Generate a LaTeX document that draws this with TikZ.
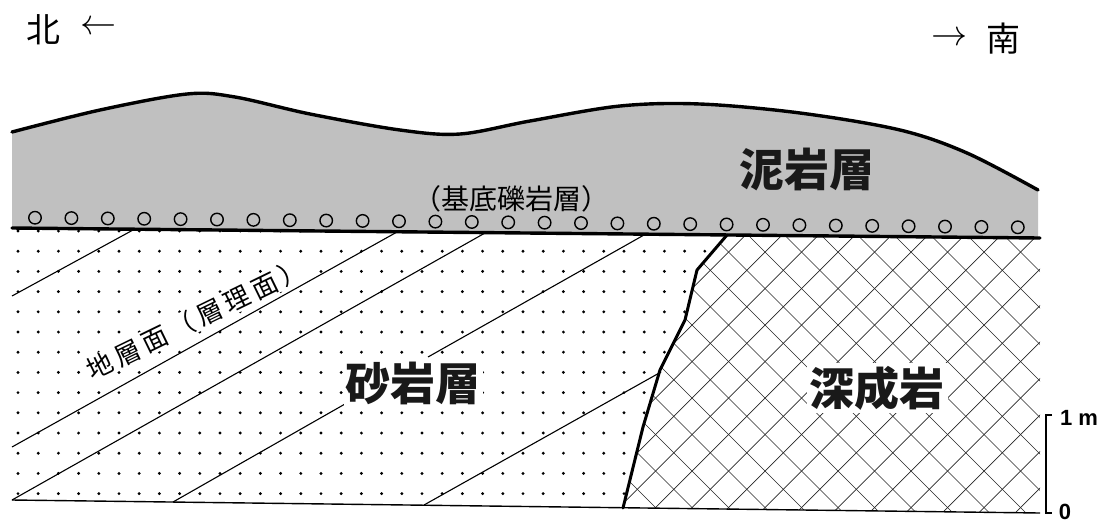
\documentclass[tikz,border=0pt]{standalone}
\usepackage{fontspec}
\newfontfamily\jp{Noto Sans CJK JP}
\setsansfont{Liberation Sans}
\newcommand\lsp{\hspace{4.5pt}}
\definecolor{mudgray}{RGB}{192,192,192}
\begin{document}
\begin{tikzpicture}[x=1pt,y=-1pt,
  contact/.style={line width=3.4pt,line join=round,line cap=round},
  bedding/.style={line width=1.1pt},
  baseline/.style={line width=1.4pt},
  hatch/.style={line width=0.7pt,black!85},
  pebble/.style={circle,draw,line width=1.4pt,fill=mudgray,minimum size=12.5pt,inner sep=0pt},
  biglabel/.style={font=\jp\bfseries\fontsize{45}{45}\selectfont,text=black!90},
  dirlabel/.style={font=\jp\fontsize{34}{34}\selectfont},
  arrowglyph/.style={scale=1.45,inner sep=0pt,font=\Huge},
  scalelabel/.style={font=\sffamily\bfseries\fontsize{22}{22}\selectfont,inner sep=0pt}]
\useasboundingbox (0,0) rectangle (1106,523);

% main corners of the section
\coordinate (tl) at (12,228);
\coordinate (tr) at (1040,238);
\coordinate (bl) at (12,500);
\coordinate (br) at (1040,513);
% intrusive contact, top to bottom
\coordinate (i0) at (727,235);
\coordinate (i1) at (697,270);
\coordinate (i2) at (685,320);
\coordinate (i3) at (660,370);
\coordinate (i4) at (643,427);
\coordinate (i5) at (623,508);

% sandstone: dotted texture
\begin{scope}
  \clip (tl) -- (i0) -- (i1) -- (i2) -- (i3) -- (i4) -- (i5) -- (bl) -- cycle;
  \foreach \i in {0,...,35}
    \foreach \j in {0,...,13}
      \fill ({18+20.2*\i},{231+20.2*\j}) circle (1.6);
\end{scope}

% plutonic rock: diagonal cross-hatching
\begin{scope}
  \clip (i0) -- (tr) -- (br) -- (i5) -- (i4) -- (i3) -- (i2) -- (i1) -- cycle;
  \foreach \i in {-12,...,9}
    \draw[hatch] ({513+36.5*\i-50},-50) -- ({513+36.5*\i+600},600);
  \foreach \j in {-6,...,16}
    \draw[hatch] ({1017+36.5*\j+50},-50) -- ({1017+36.5*\j-600},600);
\end{scope}

% mudstone layer
\fill[mudgray] (tl) -- plot[smooth,tension=0.55] coordinates {(12,132) (100,110) (187,94) (235,97) (310,114) (400,130) (460,134) (530,121) (620,106) (700,104) (800,113) (900,130) (967,153) (1038,190)} -- (1038,238) -- cycle;
\draw[contact] plot[smooth,tension=0.55] coordinates {(12,132) (100,110) (187,94) (235,97) (310,114) (400,130) (460,134) (530,121) (620,106) (700,104) (800,113) (900,130) (967,153) (1038,190)};

% basal conglomerate pebbles
\foreach \k in {0,...,27}
  \node[pebble] (p\k) at ({35+36.4*\k},{228+0.00973*(23+36.4*\k)-10.5}) {};

% bedding planes
\coordinate (a0) at (12,296);  \coordinate (a1) at (133,230);
\coordinate (b0) at (12,447);  \coordinate (b1) at (397,232);
\coordinate (c1) at (485,233);
\coordinate (d0) at (173,502); \coordinate (d1) at (345,404);
\coordinate (d2) at (428,357); \coordinate (d3) at (644,235);
\coordinate (e0) at (424,505); \coordinate (e1) at (661,372);
\draw[bedding] (a0) -- (a1);
\draw[bedding] (b0) -- (b1);
\draw[bedding] (bl) -- (c1);
\draw[bedding] (d0) -- (d1);
\draw[bedding] (d2) -- (d3);
\draw[bedding] (e0) -- (e1);

% unconformity, base line and intrusive contact
\draw[contact] (tl) -- (tr);
\draw[baseline] (bl) -- (br);
\draw[line width=3pt,line join=round,line cap=round] (i0) -- (i1) -- (i2) -- (i3) -- (i4) -- (i5);

% labels
\node[biglabel] (mud) at (807,169) {泥岩層};
\node[font=\jp\fontsize{28}{28}\selectfont] (cong) at (511,199) {（基底礫岩層）};
\node[biglabel,fill=white,inner sep=2pt] (sand) at (413,383) {砂岩層};
\node[biglabel,fill=white,inner sep=3pt] (plut) at (877,388) {深成岩};
\node[font=\jp\fontsize{26}{26}\selectfont,rotate=26,fill=white,inner sep=0.5pt] (bed) at (196,319)
  {地\lsp 層\lsp 面\lsp （\lsp 層\lsp 理\lsp 面\lsp ）};

% compass directions
\node[dirlabel] (north) at (44,30) {北};
\node[arrowglyph] (narr) at (99,28) {$\leftarrow$};
\node[arrowglyph] (sarr) at (950,39) {$\rightarrow$};
\node[dirlabel] (south) at (1003,39) {南};

% scale bar
\coordinate (s1) at (1046,415);
\coordinate (s0) at (1046,513);
\draw[line width=1.6pt] ([xshift=6pt]s1) -- (s1) -- (s0) -- ([xshift=6pt]s0);
\node[scalelabel] (one) at (1079,418) {1 m};
\node[scalelabel] (zero) at (1065,512) {0};
\end{tikzpicture}
\end{document}
